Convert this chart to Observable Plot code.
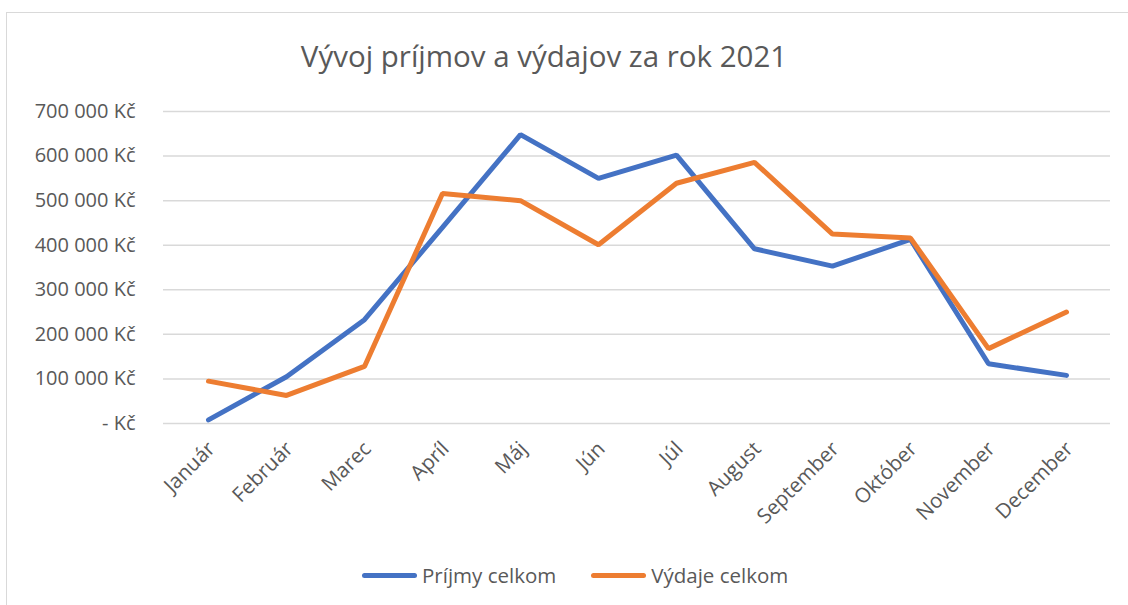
<!DOCTYPE html>
<html>
<head>
<meta charset="utf-8">
<script src="https://cdn.jsdelivr.net/npm/d3@7"></script>
<script src="https://cdn.jsdelivr.net/npm/@observablehq/plot@0.6"></script>
<style>
  html, body { margin: 0; padding: 0; background: #fff; overflow: hidden; }
  body { width: 1128px; height: 605px; position: relative; font-family: "Open Sans", sans-serif; color: #595959; }
  #frame { position: absolute; left: 6px; top: 12px; width: 1200px; height: 700px; border: 1.5px solid #d9d9d9; box-sizing: border-box; }
  #chart { position: absolute; left: 0; top: 0; }
  #title { position: absolute; left: 0; top: 36px; width: 1088px; text-align: center; font-size: 29.5px; line-height: 40px; white-space: nowrap; }
  #legend { position: absolute; left: 362px; top: 561px; display: flex; align-items: center; font-size: 20.5px; line-height: 28px; white-space: nowrap; }
  .sw { display: inline-block; width: 55px; height: 5px; border-radius: 3px; margin-right: 5px; }
  .item { display: flex; align-items: center; }
</style>
</head>
<body>
<div id="frame"></div>
<div id="chart"></div>
<div id="title">Vývoj príjmov a výdajov za rok 2021</div>
<div id="legend"></div>
<script>
const months = ["Január", "Február", "Marec", "Apríl", "Máj", "Jún", "Júl", "August", "September", "Október", "November", "December"];
const prijmy = [8000, 105000, 233000, 440000, 648000, 550000, 602000, 392000, 353000, 413000, 134000, 108000];
const vydaje = [95000, 63000, 128000, 516000, 500000, 401000, 539000, 586000, 425000, 416000, 168000, 250000];
const seriesNames = ["Príjmy celkom", "Výdaje celkom"];
const seriesColors = ["#4472C4", "#ED7D31"];
const yTicks = [0, 100000, 200000, 300000, 400000, 500000, 600000, 700000];

const data = months.flatMap((m, i) => [
  {month: m, value: prijmy[i], series: seriesNames[0]},
  {month: m, value: vydaje[i], series: seriesNames[1]}
]);

const fmt = d => d === 0 ? "- Kč" : d3.format(",")(d).replace(/,/g, "\u00a0") + " Kč";

const plot = Plot.plot({
  width: 1128,
  height: 560,
  marginLeft: 163,
  marginRight: 18,
  marginTop: 111,
  marginBottom: 137,
  style: {fontFamily: "Open Sans", color: "#595959", background: "transparent"},
  x: {type: "point", domain: months, padding: 0.5, label: null},
  y: {domain: [0, 700000], label: null},
  color: {domain: seriesNames, range: seriesColors},
  marks: [
    Plot.gridY(yTicks, {stroke: "#d9d9d9", strokeOpacity: 1, strokeWidth: 1.5}),
    Plot.axisY(yTicks, {tickSize: 0, tickPadding: 28, tickFormat: fmt, fontSize: 20, fill: "#595959", label: null}),
    Plot.axisX({tickSize: 0, tickPadding: 22, dx: 3, tickRotate: -45, fontSize: 20.5, fill: "#595959", label: null}),
    Plot.lineY(data, {x: "month", y: "value", stroke: "series", strokeWidth: 5, strokeLinecap: "round", strokeLinejoin: "miter"})
  ]
});
document.getElementById("chart").appendChild(plot);

const legend = document.getElementById("legend");
seriesNames.forEach((name, i) => {
  const item = document.createElement("div");
  item.className = "item";
  if (i > 0) item.style.marginLeft = "35px";
  const sw = document.createElement("span");
  sw.className = "sw";
  sw.style.background = seriesColors[i];
  const t = document.createElement("span");
  t.textContent = name;
  item.appendChild(sw);
  item.appendChild(t);
  legend.appendChild(item);
});
</script>
</body>
</html>
